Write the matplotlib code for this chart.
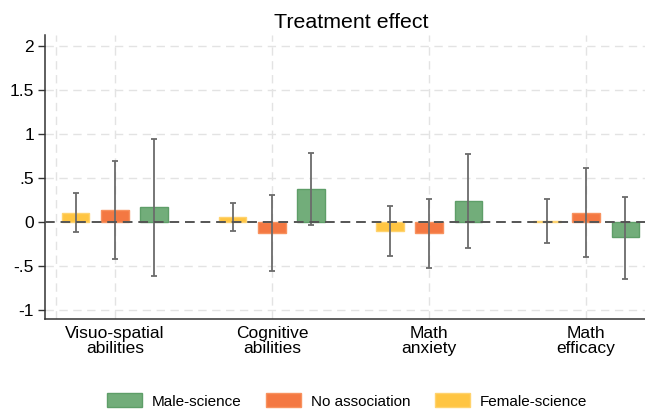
import matplotlib.pyplot as plt
import numpy as np
from matplotlib.patches import Patch

plt.rcParams['font.family'] = ['Liberation Sans', 'DejaVu Sans']

outcomes = ["Visuo-spatial\nabilities", "Cognitive\nabilities", "Math\nanxiety", "Math\nefficacy"]
series = ["Female-science", "No association", "Male-science"]

female = [0.11, 0.06, -0.10, 0.01]
female_lo = [-0.11, -0.10, -0.38, -0.23]
female_hi = [0.33, 0.22, 0.18, 0.26]

noassoc = [0.14, -0.12, -0.12, 0.11]
noassoc_lo = [-0.42, -0.55, -0.52, -0.39]
noassoc_hi = [0.70, 0.31, 0.26, 0.62]

male = [0.17, 0.38, 0.24, -0.17]
male_lo = [-0.61, -0.03, -0.29, -0.64]
male_hi = [0.95, 0.79, 0.78, 0.29]

yticks = [-1, -0.5, 0, 0.5, 1, 1.5, 2]
yticklabels = ["-1", "-.5", "0", ".5", "1", "1.5", "2"]

colors = {"Female-science": "#FFC542", "No association": "#F47842", "Male-science": "#72AD7A"}
edges = {"Female-science": "#FFD36E", "No association": "#F8925F", "Male-science": "#5E9E68"}

fig = plt.figure(figsize=(6.45, 4.12), dpi=100)
ax = fig.add_axes([45/645, 93/412, 1 - 45/645, 284/412])

centers = np.array([2, 6, 10, 14])
data = [(female, female_lo, female_hi), (noassoc, noassoc_lo, noassoc_hi), (male, male_lo, male_hi)]
for k, (name, (v, lo, hi)) in enumerate(zip(series, data)):
    x = centers + (k - 1)
    v = np.array(v)
    ax.bar(x, v, width=0.7, color=colors[name], edgecolor=edges[name], linewidth=1, zorder=3)
    ax.errorbar(x, v, yerr=[v - np.array(lo), np.array(hi) - v], fmt="none",
                ecolor="#6b6b6b", elinewidth=1.3, capsize=2.5, capthick=1.3, zorder=4)

ax.axhline(0, color="#555555", linestyle=(0, (5, 3)), linewidth=1.4, zorder=5)

for y in yticks:
    if y != 0:
        ax.axhline(y, color="#e3e3e3", linestyle=(0, (6, 4)), linewidth=1.0, zorder=0)
for x in [0.5, 2, 6, 10, 14]:
    ax.axvline(x, color="#e3e3e3", linestyle=(0, (6, 4)), linewidth=1.0, zorder=0)

ax.set_xlim(0.22, 15.5)
ax.set_ylim(-1.1, 2.13)
ax.set_yticks(yticks)
ax.set_yticklabels(yticklabels, fontsize=12.5)
ax.set_xticks(centers)
ax.set_xticklabels(outcomes, fontsize=12.5, linespacing=1.0)
ax.tick_params(axis="x", length=0, pad=5)
ax.tick_params(axis="y", length=5, width=1, color="#333333", pad=3)

for s in ["top", "right"]:
    ax.spines[s].set_visible(False)
for s in ["left", "bottom"]:
    ax.spines[s].set_color("#333333")
    ax.spines[s].set_linewidth(1.1)

ax.set_title("Treatment effect", fontsize=15.4, pad=5, x=0.51)

handles = [Patch(facecolor=colors[n], edgecolor=edges[n]) for n in ["Male-science", "No association", "Female-science"]]
fig.legend(handles, ["Male-science", "No association", "Female-science"], loc="lower center",
           bbox_to_anchor=(0.538, -0.025), ncol=3, frameon=False, fontsize=11,
           handlelength=2.3, handleheight=1.0, columnspacing=1.6, handletextpad=0.65)

fig.savefig("out.png", dpi=100)
